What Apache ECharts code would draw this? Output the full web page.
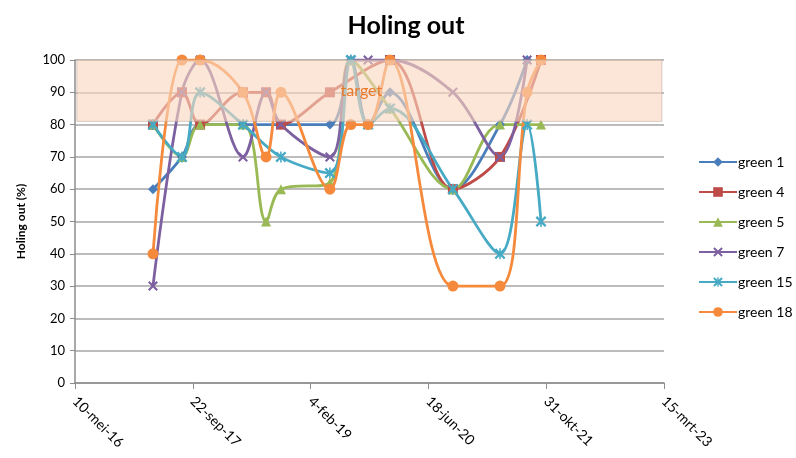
<!DOCTYPE html>
<html><head><meta charset="utf-8">
<script src="https://cdn.jsdelivr.net/npm/echarts@6/dist/echarts.min.js"></script>
<style>html,body{margin:0;padding:0;background:#fff}#c{width:796px;height:458px}</style>
</head><body><div id="c"></div>
<script>
// Measurement dates (shared), values per green (null = no measurement)
var dates = ['2017-04-06','2017-08-07','2017-10-23','2018-04-23','2018-07-30','2018-10-01','2019-04-27','2019-07-25','2019-10-06','2020-01-07','2020-09-30','2021-04-18','2021-08-11','2021-10-09'];
var green1  = [60, 70, 80, 80, null, 80, 80, 100, 80, 90, 60, 80, 100, null];
var green4  = [80, 90, 80, 90, 90, 80, 90, null, null, 100, 60, 70, null, 100];
var green5  = [80, 70, 80, 80, 50, 60, 62, 100, null, 85, 60, 80, null, 80];
var green7  = [30, 90, 100, 70, 90, 80, 70, 100, 100, 100, 90, 70, 100, null];
var green15 = [80, 70, 90, 80, null, 70, 65, 100, 80, 85, 60, 40, 80, 50];
var green18 = [40, 100, 100, 90, 70, 90, 60, 80, 80, 100, 30, 30, 90, 100];
var seriesNames = ['green 1','green 4','green 5','green 7','green 15','green 18'];
var targetRange = [81, 100];
var xTickLabels = ['10-mei-16','22-sep-17','4-feb-19','18-jun-20','31-okt-21','15-mrt-23'];

function serial(s){var p=s.split('-');return (Date.UTC(+p[0],+p[1]-1,+p[2])-Date.UTC(1899,11,30))/86400000;}
var xs = dates.map(serial);
function pairs(v){return v.map(function(y,i){return [xs[i], y];});}

var X_PATH='path://M0,1.5L1.5,0L5,3.5L8.5,0L10,1.5L6.5,5L10,8.5L8.5,10L5,6.5L1.5,10L0,8.5L3.5,5Z';
var STAR_PATH='path://M0,1.5L1.5,0L5,3.5L8.5,0L10,1.5L6.5,5L10,8.5L8.5,10L5,6.5L1.5,10L0,8.5L3.5,5ZM4.3,0L5.7,0L5.7,10L4.3,10Z';
var colors=['#4A7EBB','#BE4B48','#98B954','#7D60A0','#46AAC5','#F58A3C'];
var symbols=['diamond','rect','triangle',X_PATH,STAR_PATH,'circle'];
var sizes=[10,10,10,10,11,11];
var vals=[green1,green4,green5,green7,green15,green18];
var font='Lato, "Liberation Sans", sans-serif';

var series = vals.map(function(v,i){
  return {name:seriesNames[i],type:'line',data:pairs(v),connectNulls:true,smooth:0.35,
    symbol:symbols[i],symbolSize:sizes[i],showAllSymbol:true,z:2,
    lineStyle:{color:colors[i],width:2.8},itemStyle:{color:colors[i]}};
});
series.push({name:'target',type:'line',data:[],z:10,silent:true,
  markArea:{silent:true,z:10,itemStyle:{color:'rgba(250,215,190,0.62)',borderColor:'rgba(190,170,160,0.6)',borderWidth:1},
    label:{show:true,position:'inside',offset:[-8,0],color:'#E8782A',fontSize:16,fontFamily:font,formatter:'target'},
    data:[[{xAxis:42508,yAxis:targetRange[0]},{xAxis:44991,yAxis:targetRange[1]}]]}});

var chart = echarts.init(document.getElementById('c'));
chart.setOption({
  animation:false,
  title:{text:'Holing out',left:401,textAlign:'center',top:8,textStyle:{fontSize:25,fontWeight:'bold',color:'#000',fontFamily:font}},
  grid:{left:75,right:132,top:60,bottom:75},
  legend:{data:seriesNames,orient:'vertical',left:693,top:150,itemGap:16,itemWidth:38,itemHeight:12,
    textStyle:{fontSize:14,color:'#000',fontFamily:font,padding:[0,0,0,-4]}},
  xAxis:{type:'value',min:42500,max:45000,interval:500,
    axisLine:{show:true,lineStyle:{color:'#8c8c8c',width:1.5}},
    axisTick:{show:true,length:6,lineStyle:{color:'#8c8c8c'}},
    splitLine:{show:false},
    axisLabel:{rotate:-45,fontSize:14,color:'#000',fontFamily:font,margin:16,
      formatter:function(v){var i=Math.round((v-42500)/500);return xTickLabels[i]||'';}}},
  yAxis:{type:'value',min:0,max:100,interval:10,name:'Holing out (%)',nameLocation:'middle',nameGap:48,
    nameTextStyle:{fontSize:12,fontWeight:'bold',color:'#000',fontFamily:font},
    axisLine:{show:true,lineStyle:{color:'#8c8c8c',width:1.5}},
    axisTick:{show:true,length:5,lineStyle:{color:'#8c8c8c'}},
    axisLabel:{fontSize:13,color:'#000',fontFamily:font,margin:10},
    splitLine:{lineStyle:{color:'#a6a6a6',width:1.5}}},
  series:series
});
</script></body></html>
